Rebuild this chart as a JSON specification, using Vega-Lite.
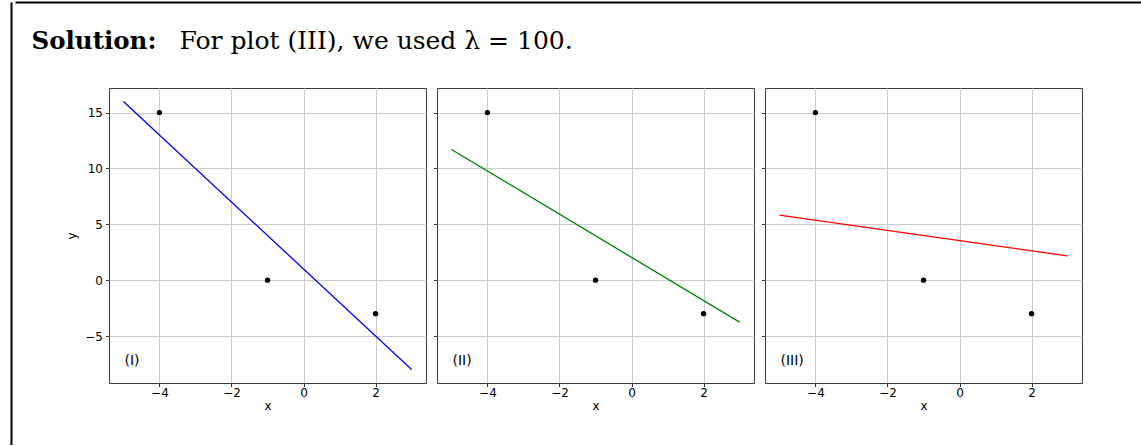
{
  "$schema": "https://vega.github.io/schema/vega-lite/v6.json",
  "padding": {"left": 8, "top": 2, "right": 0, "bottom": 0},
  "background": "white",
  "datasets": {
    "lines": [
      {"panel": "I", "x": -5, "y": 16},
      {"panel": "I", "x": 3, "y": -8},
      {"panel": "II", "x": -5, "y": 11.7},
      {"panel": "II", "x": 3, "y": -3.75},
      {"panel": "III", "x": -5, "y": 5.83},
      {"panel": "III", "x": 3, "y": 2.17}
    ],
    "points": [
      {"x": -4, "y": 15},
      {"x": -1, "y": 0},
      {"x": 2, "y": -3}
    ],
    "labels": [
      {"panel": "I", "label": "(I)"},
      {"panel": "II", "label": "(II)"},
      {"panel": "III", "label": "(III)"}
    ],
    "dummy": [{"a": 0, "b": 0}]
  },
  "spacing": 0,
  "hconcat": [
    {
      "width": 1,
      "height": 443,
      "data": {"name": "dummy"},
      "mark": {"type": "point", "opacity": 0},
      "encoding": {
        "y": {"field": "a", "type": "quantitative", "axis": {"domain": true, "domainColor": "#000000", "domainWidth": 2, "ticks": false, "labels": false, "grid": false, "title": null}}
      }
    },
    {
      "spacing": 0,
      "vconcat": [
        {
          "width": 1131,
          "height": 85,
          "data": {"name": "dummy"},
          "mark": {"type": "point", "opacity": 0},
          "encoding": {
            "x": {"field": "a", "type": "quantitative", "axis": {"orient": "top", "domain": true, "domainColor": "#000000", "domainWidth": 2, "ticks": false, "labels": false, "grid": false, "title": "For plot (III), we used λ = 100.", "titleX": 164, "titleY": 46.5, "titleAngle": 0, "titleAlign": "left", "titleBaseline": "alphabetic", "titleFont": "DejaVu Serif", "titleFontSize": 25, "titleFontWeight": "normal", "titleColor": "#000000"}},
            "y": {"field": "b", "type": "quantitative", "axis": {"orient": "left", "domain": false, "ticks": false, "labels": false, "grid": false, "title": "Solution:", "titleX": 16, "titleY": 46.5, "titleAngle": 0, "titleAlign": "left", "titleBaseline": "alphabetic", "titleFont": "DejaVu Serif", "titleFontSize": 24.5, "titleFontWeight": "bold", "titleColor": "#000000"}}
          }
        },
        {
          "spacing": 5,
          "hconcat": [
            {
              "width": 44.5,
              "height": 295,
              "data": {"name": "dummy"},
              "mark": {"type": "point", "opacity": 0}
            },
            {
              "width": 317,
              "height": 295,
              "view": {"stroke": "#3a3a3a", "strokeWidth": 1},
              "layer": [
                {
                  "data": {"name": "lines"},
                  "transform": [{"filter": "datum.panel === 'I'"}],
                  "mark": {"type": "line", "color": "#0000ff", "strokeWidth": 1.3},
                  "encoding": {
                    "x": {"field": "x", "type": "quantitative", "scale": {"domain": [-5.4, 3.4], "nice": false, "zero": false}, "axis": {"values": [-4, -2, 0, 2], "title": "x"}},
                    "y": {"field": "y", "type": "quantitative", "scale": {"domain": [-9.2, 17.2], "nice": false, "zero": false}, "axis": {"values": [-5, 0, 5, 10, 15], "title": "y", "titlePadding": 6, "labelPadding": 3}}
                  }
                },
                {
                  "data": {"name": "points"},
                  "mark": {"type": "circle", "color": "#000000", "size": 28, "opacity": 1},
                  "encoding": {
                    "x": {"field": "x", "type": "quantitative"},
                    "y": {"field": "y", "type": "quantitative"}
                  }
                },
                {
                  "data": {"name": "labels"},
                  "transform": [{"filter": "datum.panel === 'I'"}],
                  "mark": {"type": "text", "align": "left", "baseline": "middle", "font": "DejaVu Sans", "fontSize": 14, "color": "#000000"},
                  "encoding": {
                    "x": {"datum": -4.97, "type": "quantitative"},
                    "y": {"datum": -7.27, "type": "quantitative"},
                    "text": {"field": "label"}
                  }
                }
              ]
            },
            {
              "width": 317,
              "height": 295,
              "view": {"stroke": "#3a3a3a", "strokeWidth": 1},
              "layer": [
                {
                  "data": {"name": "lines"},
                  "transform": [{"filter": "datum.panel === 'II'"}],
                  "mark": {"type": "line", "color": "#008000", "strokeWidth": 1.3},
                  "encoding": {
                    "x": {"field": "x", "type": "quantitative", "scale": {"domain": [-5.4, 3.4], "nice": false, "zero": false}, "axis": {"values": [-4, -2, 0, 2], "title": "x"}},
                    "y": {"field": "y", "type": "quantitative", "scale": {"domain": [-9.2, 17.2], "nice": false, "zero": false}, "axis": {"values": [-5, 0, 5, 10, 15], "labels": false, "title": null}}
                  }
                },
                {
                  "data": {"name": "points"},
                  "mark": {"type": "circle", "color": "#000000", "size": 28, "opacity": 1},
                  "encoding": {
                    "x": {"field": "x", "type": "quantitative"},
                    "y": {"field": "y", "type": "quantitative"}
                  }
                },
                {
                  "data": {"name": "labels"},
                  "transform": [{"filter": "datum.panel === 'II'"}],
                  "mark": {"type": "text", "align": "left", "baseline": "middle", "font": "DejaVu Sans", "fontSize": 14, "color": "#000000"},
                  "encoding": {
                    "x": {"datum": -4.97, "type": "quantitative"},
                    "y": {"datum": -7.27, "type": "quantitative"},
                    "text": {"field": "label"}
                  }
                }
              ]
            },
            {
              "width": 317,
              "height": 295,
              "view": {"stroke": "#3a3a3a", "strokeWidth": 1},
              "layer": [
                {
                  "data": {"name": "lines"},
                  "transform": [{"filter": "datum.panel === 'III'"}],
                  "mark": {"type": "line", "color": "#ff0000", "strokeWidth": 1.3},
                  "encoding": {
                    "x": {"field": "x", "type": "quantitative", "scale": {"domain": [-5.4, 3.4], "nice": false, "zero": false}, "axis": {"values": [-4, -2, 0, 2], "title": "x"}},
                    "y": {"field": "y", "type": "quantitative", "scale": {"domain": [-9.2, 17.2], "nice": false, "zero": false}, "axis": {"values": [-5, 0, 5, 10, 15], "labels": false, "title": null}}
                  }
                },
                {
                  "data": {"name": "points"},
                  "mark": {"type": "circle", "color": "#000000", "size": 28, "opacity": 1},
                  "encoding": {
                    "x": {"field": "x", "type": "quantitative"},
                    "y": {"field": "y", "type": "quantitative"}
                  }
                },
                {
                  "data": {"name": "labels"},
                  "transform": [{"filter": "datum.panel === 'III'"}],
                  "mark": {"type": "text", "align": "left", "baseline": "middle", "font": "DejaVu Sans", "fontSize": 14, "color": "#000000"},
                  "encoding": {
                    "x": {"datum": -4.97, "type": "quantitative"},
                    "y": {"datum": -7.27, "type": "quantitative"},
                    "text": {"field": "label"}
                  }
                }
              ]
            }
          ]
        }
      ]
    }
  ],
  "config": {
    "view": {"stroke": null},
    "axis": {
      "domain": false,
      "grid": true,
      "gridColor": "#cccccc",
      "gridWidth": 1,
      "tickColor": "#333333",
      "tickSize": 3.5,
      "labelFont": "DejaVu Sans",
      "labelFontSize": 12,
      "labelColor": "#000000",
      "labelPadding": 1,
      "titleFont": "DejaVu Sans",
      "titleFontSize": 12,
      "titleFontWeight": "normal",
      "titleColor": "#000000",
      "titlePadding": 2
    }
  }
}
